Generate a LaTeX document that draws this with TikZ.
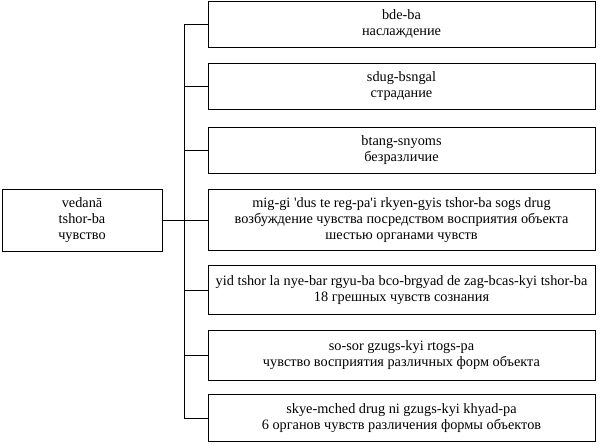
\documentclass[tikz,border=0pt]{standalone}
\usepackage{fontspec}
\setmainfont{Liberation Serif}
\begin{document}
\begin{tikzpicture}[x=1pt,y=-1pt,
  box/.style={draw,line width=1pt,align=center,font=\fontsize{14.3}{16}\selectfont,inner sep=0pt},
  ln/.style={line width=1pt}]
\useasboundingbox (0,0) rectangle (600,445);
\newcommand\rb[4]{\node[box,minimum width=387pt,minimum height=#3pt] (#1) at (401.5,#2) {#4};}
\rb{b1}{24}{46}{bde-ba\\наслаждение}
\rb{b2}{86}{46}{sdug-bsngal\\страдание}
\rb{b3}{150}{46}{btang-snyoms\\безразличие}
\rb{b4}{220}{61}{mig-gi \textquotesingle dus te reg-pa\textquotesingle i rkyen-gyis tshor-ba sogs drug\\возбуждение чувства посредством восприятия объекта\\шестью органами чувств}
\rb{b5}{290}{49}{yid tshor la nye-bar rgyu-ba bco-brgyad de zag-bcas-kyi tshor-ba\\18 грешных чувств сознания}
\rb{b6}{355}{50}{so-sor gzugs-kyi rtogs-pa\\чувство восприятия различных форм объекта}
\rb{b7}{418}{47}{skye-mched drug ni gzugs-kyi khyad-pa\\6 органов чувств различения формы объектов}
\node[box,minimum width=160pt,minimum height=62pt] (L) at (82,220) {vedanā\\tshor-ba\\чувство};
\coordinate (t) at (184,24);
\coordinate (bt) at (184,418);
\draw[ln] (t) -- (bt);
\draw[ln] (L.east) -- (184,220);
\foreach \b in {b1,b2,b3,b4,b5,b6,b7} \draw[ln] (\b.west) -- (\b.west -| t);
\end{tikzpicture}
\end{document}
